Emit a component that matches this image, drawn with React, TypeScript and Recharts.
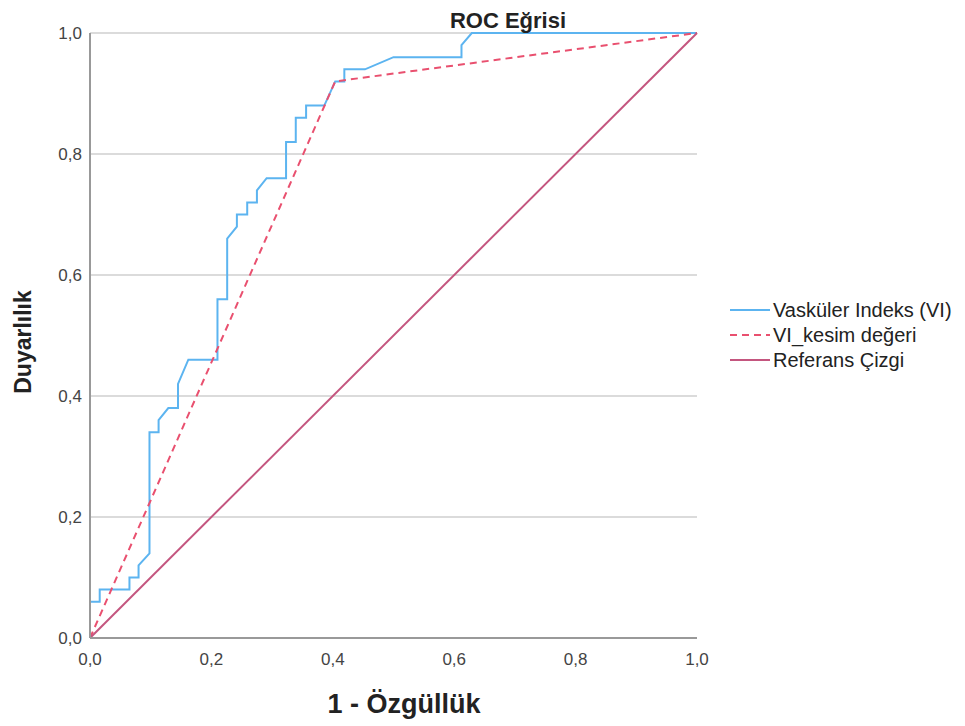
import React from 'react';
import { LineChart, Line, XAxis, YAxis, CartesianGrid } from 'recharts';

const viFpr = [0, 0, 0.016, 0.016, 0.065, 0.065, 0.08, 0.08, 0.098, 0.098, 0.113, 0.113, 0.129, 0.145, 0.145, 0.162, 0.21, 0.21, 0.226, 0.226, 0.242, 0.242, 0.259, 0.259, 0.275, 0.275, 0.291, 0.323, 0.323, 0.339, 0.339, 0.356, 0.356, 0.386, 0.404, 0.419, 0.419, 0.453, 0.5, 0.612, 0.612, 0.629, 1];
const viTpr = [0, 0.06, 0.06, 0.08, 0.08, 0.1, 0.1, 0.12, 0.14, 0.34, 0.34, 0.36, 0.38, 0.38, 0.42, 0.46, 0.46, 0.56, 0.56, 0.66, 0.68, 0.7, 0.7, 0.72, 0.72, 0.74, 0.76, 0.76, 0.82, 0.82, 0.86, 0.86, 0.88, 0.88, 0.92, 0.92, 0.94, 0.94, 0.96, 0.96, 0.98, 1, 1];

const cutFpr = [0, 0.404, 1];
const cutTpr = [0, 0.92, 1];

const refFpr = [0, 1];
const refTpr = [0, 1];

const ticks = [0, 0.2, 0.4, 0.6, 0.8, 1];

const title = 'ROC Eğrisi';
const xTitle = '1 - Özgüllük';
const yTitle = 'Duyarlılık';
const seriesNames = ['Vasküler Indeks (VI)', 'VI_kesim değeri', 'Referans Çizgi'];
const colors = ['#5cb4f0', '#e9506f', '#c4567f'];

const zip = (xs: number[], ys: number[]) => xs.map((x, i) => ({ x, y: ys[i] }));
const viData = zip(viFpr, viTpr);
const cutData = zip(cutFpr, cutTpr);
const refData = zip(refFpr, refTpr);

const fmt = (v: number) => v.toFixed(1).replace('.', ',');
const FONT = '"Liberation Sans", Arial, sans-serif';

export default function App() {
  return (
    <div style={{ position: 'relative', width: 950, height: 712, fontFamily: FONT }}>
      <LineChart width={950} height={710} margin={{ top: 25, right: 261, left: 0, bottom: 0 }}>
        <CartesianGrid vertical={false} stroke="#cfcfcf" strokeWidth={1.5} />
        <XAxis
          type="number"
          dataKey="x"
          domain={[0, 1]}
          ticks={ticks}
          tickFormatter={fmt}
          tickSize={0}
          tickMargin={15}
          height={80}
          stroke="#999"
          strokeWidth={2}
          tick={{ fill: '#444', fontSize: 17, fontFamily: FONT }}
          allowDuplicatedCategory={false}
        />
        <YAxis
          type="number"
          dataKey="y"
          domain={[0, 1]}
          ticks={ticks}
          tickFormatter={fmt}
          tickSize={0}
          tickMargin={8}
          width={82}
          stroke="#999"
          strokeWidth={2}
          tick={{ fill: '#444', fontSize: 17, fontFamily: FONT }}
        />
        <Line data={viData} dataKey="y" name={seriesNames[0]} stroke={colors[0]} strokeWidth={2} dot={false} type="linear" isAnimationActive={false} />
        <Line data={cutData} dataKey="y" name={seriesNames[1]} stroke={colors[1]} strokeWidth={2} strokeDasharray="7 5" dot={false} type="linear" isAnimationActive={false} />
        <Line data={refData} dataKey="y" name={seriesNames[2]} stroke={colors[2]} strokeWidth={2} dot={false} type="linear" isAnimationActive={false} />
      </LineChart>
      <svg width={950} height={712} style={{ position: 'absolute', left: 0, top: 0, pointerEvents: 'none', overflow: 'visible' }}>
        <text x={500} y={20} textAnchor="middle" fontSize={22} fontWeight="bold" fill="#222" fontFamily={FONT}>{title}</text>
        <text x={396} y={705} textAnchor="middle" fontSize={27} fontWeight="bold" fill="#222" fontFamily={FONT}>{xTitle}</text>
        <text x={23} y={334} textAnchor="middle" fontSize={23} fontWeight="bold" fill="#222" fontFamily={FONT} transform="rotate(-90 23 334)">{yTitle}</text>
        {seriesNames.map((n, i) => {
          const base = 309 + i * 25;
          return (
            <g key={n}>
              <line x1={722} x2={762} y1={base - 7} y2={base - 7} stroke={colors[i]} strokeWidth={2} strokeDasharray={i === 1 ? '7 5' : undefined} />
              <text x={765} y={base} fontSize={20} fill="#222" fontFamily={FONT}>{n}</text>
            </g>
          );
        })}
      </svg>
    </div>
  );
}
